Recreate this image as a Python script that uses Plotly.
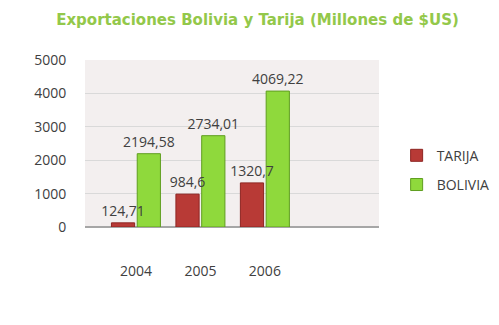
import plotly.graph_objects as go

years = ["2004", "2005", "2006"]
tarija = [124.71, 984.6, 1320.7]
bolivia = [2194.58, 2734.01, 4069.22]
tarija_labels = ["124,71", "984,6", "1320,7"]
bolivia_labels = ["2194,58", "2734,01", "4069,22"]
y_ticks = [0, 1000, 2000, 3000, 4000, 5000]

fig = go.Figure()
fig.add_trace(go.Bar(
    x=years, y=bolivia, name="BOLIVIA", text=bolivia_labels, legendgroup="b",
    legendrank=2,
    textposition="outside", cliponaxis=False, constraintext="none",
    offset=0.02, width=0.36,
    marker=dict(color="#8fd93c", line=dict(color="#5f9e1f", width=1)),
    textfont=dict(color="#404040", size=14),
))
fig.add_trace(go.Bar(
    x=years, y=tarija, name="TARIJA", text=tarija_labels, legendgroup="t",
    legendrank=1,
    textposition="outside", cliponaxis=False, constraintext="none",
    offset=-0.38, width=0.36,
    marker=dict(color="#b83a36", line=dict(color="#8e2522", width=1)),
    textfont=dict(color="#404040", size=14),
))

fig.update_layout(
    width=499, height=325,
    margin=dict(l=77, r=112, t=52, b=106),
    paper_bgcolor="white",
    plot_bgcolor="#f3efef",
    barmode="overlay",
    font=dict(family="Open Sans, DejaVu Sans, sans-serif", color="#404040", size=13),
    title=dict(
        text="<b>Exportaciones Bolivia y Tarija (Millones de $US)</b>",
        x=0.5, xref="container", xanchor="center", y=0.963, yanchor="middle",
        font=dict(family="DejaVu Sans, sans-serif", size=15, color="#93c84a"),
    ),
    legend=dict(
        x=1.06, y=0.34, xanchor="left", yanchor="middle",
        font=dict(size=14, color="#404040"),
        bgcolor="rgba(0,0,0,0)",
        traceorder="grouped", tracegroupgap=8,
    ),
    showlegend=True,
)
fig.update_yaxes(
    range=[0, 5000], tickvals=y_ticks, showgrid=True, gridcolor="#d9d9d9",
    zeroline=True, zerolinecolor="#a6a6a6", zerolinewidth=2,
    tickfont=dict(size=14, color="#404040"), ticks="outside", ticklen=15,
    tickcolor="rgba(0,0,0,0)",
)
fig.update_xaxes(
    range=[-0.79, 3.77],
    showgrid=False, ticks="outside", ticklen=31, tickcolor="rgba(0,0,0,0)",
    tickfont=dict(size=14, color="#404040"), showline=False,
)

fig.write_html("out.html")
